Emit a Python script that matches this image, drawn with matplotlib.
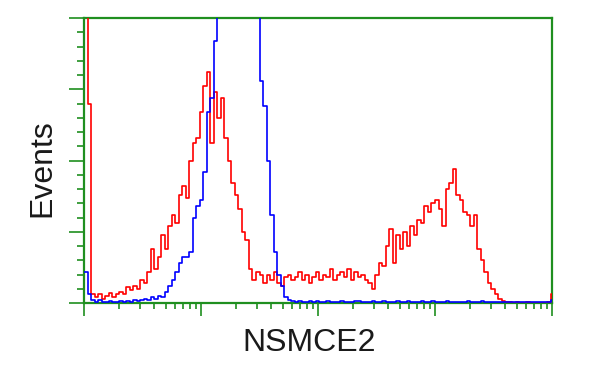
"""Flow cytometry overlay histogram: NSMCE2 staining vs. control."""

import matplotlib

matplotlib.use("Agg")
import matplotlib.pyplot as plt
import numpy as np

# channel width in decades of log fluorescence (4-decade scale)
BIN_DECADES = 0.03

# events per channel, in % of the plot height (values above 100 are off scale)
red_counts = [
    120, 70, 3, 2, 3, 1.5, 2.5, 3.5, 2, 3,
    4, 3, 5.5, 4.5, 6, 5, 8, 7, 11, 19,
    12, 16, 24, 19, 27, 31, 28, 38, 41, 37,
    50, 56, 58, 67, 76, 81, 56, 74, 65, 72,
    58, 50, 42, 38, 33, 25, 22, 12, 8, 11,
    10, 7, 10, 8, 11, 7, 6, 9, 10, 8,
    9, 11, 8, 10, 7, 9, 11, 8, 10, 9,
    12, 8, 10, 11, 9, 12, 8, 11, 9, 10,
    8, 7, 5, 10, 14, 13, 20, 26, 14, 24,
    19, 25, 20, 27, 24, 29, 28, 34, 32, 35,
    36, 33, 27, 40, 42, 47, 38, 36, 32, 31,
    27, 31, 19, 15, 11, 7, 5, 3, 1.5, 0.8,
    0.4, 0.2, 0, 0.2, 0, 0, 0.2, 0, 0, 0,
    0, 0, 0.3, 3,
]

blue_counts = [
    11, 3, 1, 0.5, 1, 0.5, 0.3, 0.8, 0.5, 0.3,
    0.6, 0.4, 0.8, 0.5, 1, 0.7, 1.2, 1.5, 1, 2,
    1.5, 2.5, 2, 4, 6, 8, 11, 14, 16, 16,
    18, 30, 34, 36, 46, 67, 72, 92, 120, 120,
    120, 120, 120, 120, 120, 120, 120, 120, 120, 120,
    78, 69, 50, 31, 18, 10, 6, 2, 1, 0.6,
    0.4, 0.8, 0.5, 0.3, 0.6, 0.4, 0.7, 0.3, 0.5, 0.6,
    0.4, 0.5, 0.3, 0.8, 0.4, 0.5, 0.3, 0.6, 0.7, 0.4,
    0.5, 0.3, 0.6, 0.4, 0.5, 0.8, 0.3, 0.5, 0.4, 0.6,
    0.5, 0.3, 0.7, 0.4, 0.5, 0.3, 0.6, 0.4, 0.5, 0.7,
    0.4, 0.3, 0.5, 0.6, 0.4, 0.5, 0.3, 0.5, 0.4, 0.6,
    0.3, 0.5, 0.4, 0.6, 0.3, 0.5, 0.4, 0.3, 0.5, 0.4,
    0.3, 0.4, 0.3, 0.5, 0.3, 0.4, 0.3, 0.2, 0.4, 0.3,
    0.3, 0.4, 0.3, 1,
]

x_label = "NSMCE2"
y_label = "Events"

GREEN = "#1f8f1f"


def _step(ax, counts, color):
    edges = np.arange(len(counts) + 1) * BIN_DECADES
    ys = list(counts) + [counts[-1]]
    ax.step(edges, ys, where="post", color=color, lw=1.2, zorder=3)


fig = plt.figure(figsize=(6, 3.75), dpi=100)
ax = fig.add_axes([84 / 600, 72 / 375, 468 / 600, 285 / 375])

_step(ax, red_counts, "#ff0000")
_step(ax, blue_counts, "#0000ff")

ax.set_xlim(0, 4)
ax.set_ylim(0, 100)

for spine in ax.spines.values():
    spine.set_color(GREEN)
    spine.set_linewidth(1.6)

decades = [0, 1, 2, 3, 4]
minor_x = [d + np.log10(k) for d in decades[:-1] for k in range(2, 10)]
ax.set_xticks(decades)
ax.set_xticks(minor_x, minor=True)
ax.set_yticks([0, 25, 50, 75, 100])
ax.set_yticks([v for v in np.arange(0, 100, 5) if v % 25], minor=True)

ax.tick_params(axis="x", which="major", direction="out", length=9, width=1.2,
               color=GREEN, labelbottom=False)
ax.tick_params(axis="x", which="minor", direction="out", length=4, width=1.2,
               color=GREEN)
ax.tick_params(axis="y", which="major", direction="out", length=10.5, width=1.2,
               color=GREEN, labelleft=False)
ax.tick_params(axis="y", which="minor", direction="out", length=5, width=1.2,
               color=GREEN)

fig.text(309 / 600, 1 - 343 / 375, x_label, ha="center", va="center",
         fontsize=23, family="Liberation Sans", color="#1a1a1a")
fig.text(42 / 600, 1 - 168 / 375, y_label, ha="center", va="center",
         rotation=90, fontsize=23, family="Liberation Sans", color="#1a1a1a")

fig.savefig("out.png", dpi=100)
plt.close(fig)
